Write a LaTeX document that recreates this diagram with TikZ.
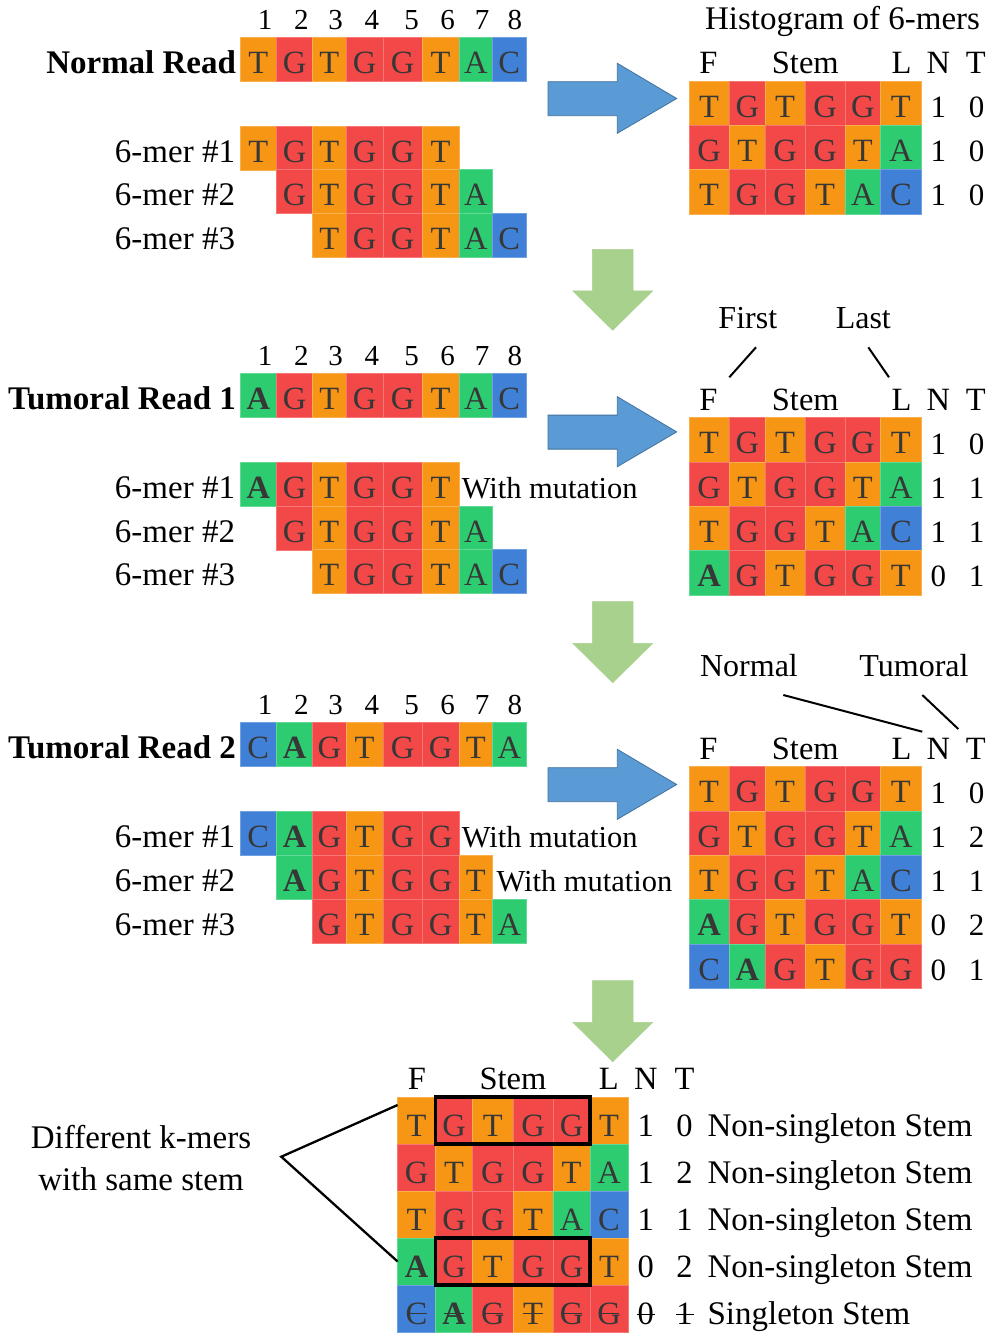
\documentclass[tikz,border=0pt]{standalone}
\usepackage{fontspec}
\setmainfont{Liberation Serif}
\definecolor{cT}{RGB}{247,150,20}
\definecolor{cG}{RGB}{243,72,72}
\definecolor{cA}{RGB}{46,204,113}
\definecolor{cC}{RGB}{64,128,215}
\definecolor{ink}{RGB}{55,55,55}
\definecolor{arrB}{RGB}{91,155,213}
\definecolor{arrBd}{RGB}{65,113,156}
\definecolor{arrG}{RGB}{169,209,142}
\newcommand\fs[1]{\fontsize{#1}{#1}\selectfont}
\tikzset{
 cellbox/.style={inner sep=0pt,outer sep=0pt,text=ink,font=\fs{32.5},text height=28pt,text depth=0pt,line width=0.7pt,anchor=north west,minimum height=44pt},
 histcell/.style={minimum height=44.3pt},
 bigcell/.style={minimum height=47pt,text height=31pt},
 lab/.style={inner sep=0pt,outer sep=0pt,text=black},
 poslab/.style={lab,anchor=base,font=\fs{29}},
 readlab/.style={lab,anchor=base east,font=\bfseries\fs{33}},
 merlab/.style={lab,anchor=base east,font=\fs{33}},
 mutlab/.style={lab,anchor=base west,font=\fs{30.5}},
 headlab/.style={lab,anchor=base,font=\fs{32.5}},
 cntlab/.style={lab,anchor=base,font=\fs{31}},
 bigcnt/.style={lab,anchor=base,font=\fs{32.5}},
 notelab/.style={lab,anchor=base,font=\fs{32}},
 stemlab/.style={lab,anchor=base west,font=\fs{33}},
 pointer/.style={line width=2pt,draw=black},
 stembox/.style={line width=3.5pt,draw=black},
 strike/.style={line width=1.3pt,draw=ink},
 bluearr/.style={fill=arrB,draw=arrBd,line width=0.8pt},
 greenarr/.style={fill=arrG,draw=arrG,line width=0.5pt}
}
\newcommand\kmerrow[4]{%
 \foreach \xa/\xb/\cc/\ll [count=\i] in {#4}{%
  \node[cellbox,#3,fill=\cc,draw=\cc!75!white,minimum width=\xb-\xa] (#1-\i) at (\xa,#2) {\ll};
 }}
\newcommand\bluearrow[1]{%
 \path[bluearr] (548,#1+18.4) -- (617.3,#1+18.4) -- (617.3,#1) -- (676.7,#1+35.2) -- (617.3,#1+70) -- (617.3,#1+52.4) -- (548,#1+52.4) -- cycle;}
\newcommand\greenarrow[1]{%
 \path[greenarr] (592.4,#1) -- (633,#1) -- (633,#1+41.6) -- (652.7,#1+41.6) -- (612.7,#1+81) -- (572.8,#1+41.6) -- (592.4,#1+41.6) -- cycle;}
\newcommand\posnums[2]{%
 \foreach \x [count=\i] in {265.2,301.3,335.7,371.9,411.5,447.7,482.1,514.8}{\node[poslab] (#1-\i) at (\x,#2) {\i};}}
\newcommand\hcounts[4]{%
 \node[cntlab] (#1n) at (938.3,#2) {#3}; \node[cntlab] (#1t) at (976.7,#2) {#4};}
\newcommand\hheader[2]{%
 \node[headlab] (#1f) at (708.5,#2) {F};
 \node[headlab] (#1s) at (805.3,#2) {Stem};
 \node[headlab] (#1l) at (901.5,#2) {L};
 \node[headlab] (#1n) at (938.3,#2) {N};
 \node[headlab] (#1t) at (975.8,#2) {T};}
\begin{document}
\begin{tikzpicture}[x=1pt,y=-1pt]
\useasboundingbox (0,0) rectangle (993,1339);
\fill[white] (0,0) rectangle (993,1339);

% ===== Section 1 =====
\posnums{pa}{29.3}
\node[readlab] (lra) at (236,73.3) {Normal Read};
\kmerrow{ra}{37.3}{}{240/276.5/cT/T,276.5/312.5/cG/G,312.5/346/cT/T,346/383/cG/G,383/422/cG/G,422/459/cT/T,459/492.5/cA/A,492.5/526/cC/C}
\node[merlab] (lka1) at (235,162) {6-mer \#1};
\node[merlab] (lka2) at (235,205.8) {6-mer \#2};
\node[merlab] (lka3) at (235,249.6) {6-mer \#3};
\kmerrow{ka1}{126}{}{240/276.5/cT/T,276.5/312.5/cG/G,312.5/346/cT/T,346/383/cG/G,383/422/cG/G,422/459/cT/T}
\kmerrow{ka2}{169.8}{}{276.5/312.5/cG/G,312.5/346/cT/T,346/383/cG/G,383/422/cG/G,422/459/cT/T,459/492.5/cA/A}
\kmerrow{ka3}{213.6}{}{312.5/346/cT/T,346/383/cG/G,383/422/cG/G,422/459/cT/T,459/492.5/cA/A,492.5/526/cC/C}
\bluearrow{63.3}
\node[notelab,font=\fs{33}] (title) at (842.5,29.3) {Histogram of 6-mers};
\hheader{hda}{73.3}
\kmerrow{ha1}{81}{histcell}{689/729.3/cT/T,729.3/765.3/cG/G,765.3/805/cT/T,805/845/cG/G,845/880.7/cG/G,880.7/921/cT/T}
\kmerrow{ha2}{125.3}{histcell}{689/729.3/cG/G,729.3/765.3/cT/T,765.3/805/cG/G,805/845/cG/G,845/880.7/cT/T,880.7/921/cA/A}
\kmerrow{ha3}{169.6}{histcell}{689/729.3/cT/T,729.3/765.3/cG/G,765.3/805/cG/G,805/845/cT/T,845/880.7/cA/A,880.7/921/cC/C}
\hcounts{ca1}{117.3}{1}{0}
\hcounts{ca2}{161.6}{1}{0}
\hcounts{ca3}{205.9}{1}{0}
\greenarrow{249.3}

% ===== Section 2 =====
\posnums{pb}{365.5}
\node[readlab] (lrb) at (236,409.5) {Tumoral Read 1};
\kmerrow{rb}{373.5}{}{240/276.5/cA/{\bfseries A},276.5/312.5/cG/G,312.5/346/cT/T,346/383/cG/G,383/422/cG/G,422/459/cT/T,459/492.5/cA/A,492.5/526/cC/C}
\node[merlab] (lkb1) at (235,498.2) {6-mer \#1};
\node[merlab] (lkb2) at (235,542) {6-mer \#2};
\node[merlab] (lkb3) at (235,585.8) {6-mer \#3};
\kmerrow{kb1}{462.2}{}{240/276.5/cA/{\bfseries A},276.5/312.5/cG/G,312.5/346/cT/T,346/383/cG/G,383/422/cG/G,422/459/cT/T}
\kmerrow{kb2}{506}{}{276.5/312.5/cG/G,312.5/346/cT/T,346/383/cG/G,383/422/cG/G,422/459/cT/T,459/492.5/cA/A}
\kmerrow{kb3}{549.8}{}{312.5/346/cT/T,346/383/cG/G,383/422/cG/G,422/459/cT/T,459/492.5/cA/A,492.5/526/cC/C}
\node[mutlab] (mb1) at (461.8,498.2) {With mutation};
\bluearrow{396.7}
\node[notelab] (first) at (747.8,328.3) {First};
\node[notelab] (last) at (863.3,328.3) {Last};
\coordinate (fa) at (756,347.3); \coordinate (fb) at (729.3,377.3);
\coordinate (la) at (868.3,347.3); \coordinate (lb) at (889,377.3);
\draw[pointer] (fa) -- (fb);
\draw[pointer] (la) -- (lb);
\hheader{hdb}{410}
\kmerrow{hb1}{417.7}{histcell}{689/729.3/cT/T,729.3/765.3/cG/G,765.3/805/cT/T,805/845/cG/G,845/880.7/cG/G,880.7/921/cT/T}
\kmerrow{hb2}{462}{histcell}{689/729.3/cG/G,729.3/765.3/cT/T,765.3/805/cG/G,805/845/cG/G,845/880.7/cT/T,880.7/921/cA/A}
\kmerrow{hb3}{506.3}{histcell}{689/729.3/cT/T,729.3/765.3/cG/G,765.3/805/cG/G,805/845/cT/T,845/880.7/cA/A,880.7/921/cC/C}
\kmerrow{hb4}{550.6}{histcell}{689/729.3/cA/{\bfseries A},729.3/765.3/cG/G,765.3/805/cT/T,805/845/cG/G,845/880.7/cG/G,880.7/921/cT/T}
\hcounts{cb1}{454}{1}{0}
\hcounts{cb2}{498.3}{1}{1}
\hcounts{cb3}{542.6}{1}{1}
\hcounts{cb4}{586.9}{0}{1}
\greenarrow{601.7}

% ===== Section 3 =====
\posnums{pc}{714.7}
\node[readlab] (lrc) at (236,758.7) {Tumoral Read 2};
\kmerrow{rc}{722.7}{}{240/276.5/cC/C,276.5/312.5/cA/{\bfseries A},312.5/346/cG/G,346/383/cT/T,383/422/cG/G,422/459/cG/G,459/492.5/cT/T,492.5/526/cA/A}
\node[merlab] (lkc1) at (235,847.4) {6-mer \#1};
\node[merlab] (lkc2) at (235,891.2) {6-mer \#2};
\node[merlab] (lkc3) at (235,935) {6-mer \#3};
\kmerrow{kc1}{811.4}{}{240/276.5/cC/C,276.5/312.5/cA/{\bfseries A},312.5/346/cG/G,346/383/cT/T,383/422/cG/G,422/459/cG/G}
\kmerrow{kc2}{855.2}{}{276.5/312.5/cA/{\bfseries A},312.5/346/cG/G,346/383/cT/T,383/422/cG/G,422/459/cG/G,459/492.5/cT/T}
\kmerrow{kc3}{899}{}{312.5/346/cG/G,346/383/cT/T,383/422/cG/G,422/459/cG/G,459/492.5/cT/T,492.5/526/cA/A}
\node[mutlab] (mc1) at (461.8,847.4) {With mutation};
\node[mutlab] (mc2) at (496.5,891.2) {With mutation};
\bluearrow{749.3}
\node[notelab] (normal) at (749,676) {Normal};
\node[notelab] (tumoral) at (914,676) {Tumoral};
\coordinate (na) at (783.3,695); \coordinate (nb) at (922.3,731.7);
\coordinate (ta) at (922.3,695); \coordinate (tb) at (958.3,729);
\draw[pointer] (na) -- (nb);
\draw[pointer] (ta) -- (tb);
\hheader{hdc}{759}
\kmerrow{hc1}{766.7}{histcell}{689/729.3/cT/T,729.3/765.3/cG/G,765.3/805/cT/T,805/845/cG/G,845/880.7/cG/G,880.7/921/cT/T}
\kmerrow{hc2}{811}{histcell}{689/729.3/cG/G,729.3/765.3/cT/T,765.3/805/cG/G,805/845/cG/G,845/880.7/cT/T,880.7/921/cA/A}
\kmerrow{hc3}{855.3}{histcell}{689/729.3/cT/T,729.3/765.3/cG/G,765.3/805/cG/G,805/845/cT/T,845/880.7/cA/A,880.7/921/cC/C}
\kmerrow{hc4}{899.6}{histcell}{689/729.3/cA/{\bfseries A},729.3/765.3/cG/G,765.3/805/cT/T,805/845/cG/G,845/880.7/cG/G,880.7/921/cT/T}
\kmerrow{hc5}{943.9}{histcell}{689/729.3/cC/C,729.3/765.3/cA/{\bfseries A},765.3/805/cG/G,805/845/cT/T,845/880.7/cG/G,880.7/921/cG/G}
\hcounts{cc1}{803}{1}{0}
\hcounts{cc2}{847.3}{1}{2}
\hcounts{cc3}{891.6}{1}{1}
\hcounts{cc4}{935.9}{0}{2}
\hcounts{cc5}{980.2}{0}{1}
\greenarrow{980.7}

% ===== Section 4 =====
\node[headlab] (hdf) at (417,1089.3) {F};
\node[headlab] (hds) at (513,1089.3) {Stem};
\node[headlab] (hdl) at (608.7,1089.3) {L};
\node[headlab] (hdn) at (645.8,1089.3) {N};
\node[headlab] (hdt) at (684.5,1089.3) {T};
\kmerrow{bot1}{1097}{bigcell}{397.6/435.5/cT/T,435.5/472.6/cG/G,472.6/512.9/cT/T,512.9/553.2/cG/G,553.2/589.9/cG/G,589.9/628.2/cT/T}
\kmerrow{bot2}{1144}{bigcell}{397.6/435.5/cG/G,435.5/472.6/cT/T,472.6/512.9/cG/G,512.9/553.2/cG/G,553.2/589.9/cT/T,589.9/628.2/cA/A}
\kmerrow{bot3}{1191}{bigcell}{397.6/435.5/cT/T,435.5/472.6/cG/G,472.6/512.9/cG/G,512.9/553.2/cT/T,553.2/589.9/cA/A,589.9/628.2/cC/C}
\kmerrow{bot4}{1238}{bigcell}{397.6/435.5/cA/{\bfseries A},435.5/472.6/cG/G,472.6/512.9/cT/T,512.9/553.2/cG/G,553.2/589.9/cG/G,589.9/628.2/cT/T}
\kmerrow{bot5}{1285}{bigcell}{397.6/435.5/cC/C,435.5/472.6/cA/{\bfseries A},472.6/512.9/cG/G,512.9/553.2/cT/T,553.2/589.9/cG/G,589.9/628.2/cG/G}
\draw[stembox] (bot1-2.north west) rectangle (bot1-5.south east);
\draw[stembox] (bot4-2.north west) rectangle (bot4-5.south east);
\foreach \i in {1,...,6}{\draw[strike] ([xshift=-10pt,yshift=-5pt]bot5-\i.center) -- ([xshift=10pt,yshift=-5pt]bot5-\i.center);}
\foreach \r/\y/\n/\t/\s in {1/1136.5/1/0/Non-singleton Stem,2/1183.5/1/2/Non-singleton Stem,3/1230.5/1/1/Non-singleton Stem,4/1277.5/0/2/Non-singleton Stem,5/1324.5/0/1/Singleton Stem}{
  \node[bigcnt] (bn\r) at (645.8,\y) {\n};
  \node[bigcnt] (bt\r) at (684.5,\y) {\t};
  \node[stemlab] (bs\r) at (707.6,\y) {\s};
}
\draw[strike,draw=black] ([xshift=-9pt,yshift=10pt]bn5.base) -- ([xshift=9pt,yshift=10pt]bn5.base);
\draw[strike,draw=black] ([xshift=-9pt,yshift=10pt]bt5.base) -- ([xshift=9pt,yshift=10pt]bt5.base);
\node[notelab,font=\fs{33}] (dk1) at (141,1148.3) {Different k-mers};
\node[notelab,font=\fs{33}] (dk2) at (141,1190) {with same stem};
\coordinate (dkv) at (281.3,1156.7);
\draw[pointer,line width=2.3pt] ([yshift=-8pt]bot1-1.north west) -- (dkv) -- (bot4-1.west);
\end{tikzpicture}
\end{document}
